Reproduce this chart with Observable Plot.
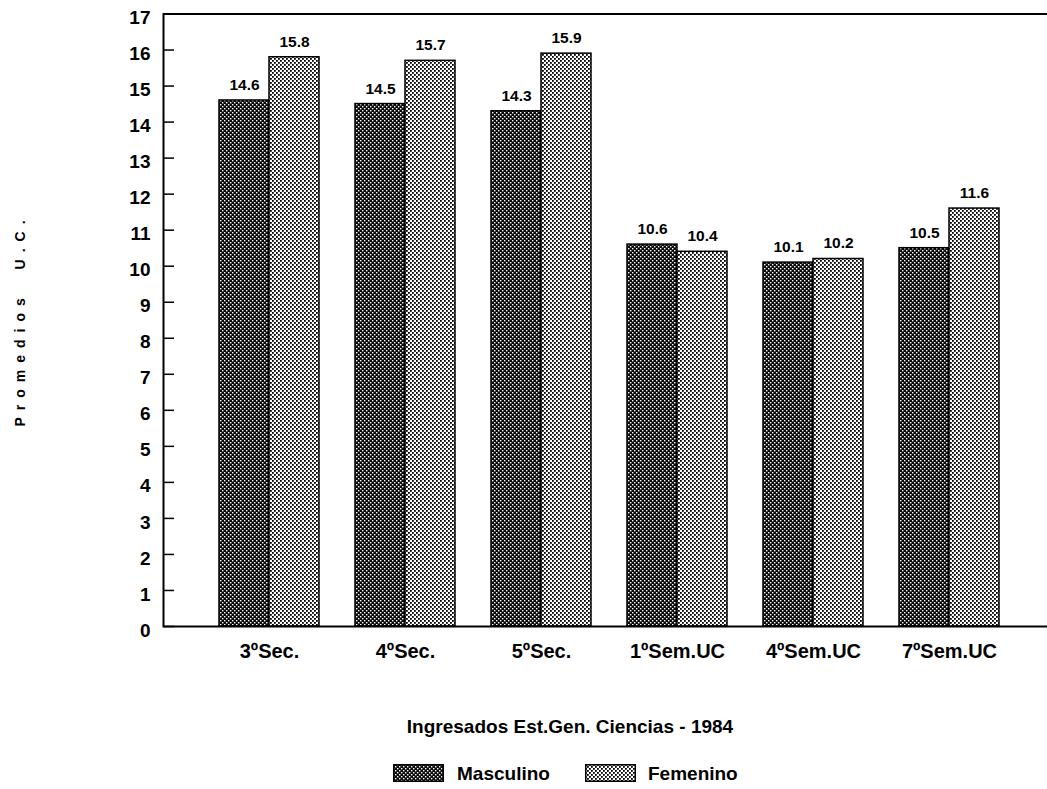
<!DOCTYPE html>
<html>
<head>
<meta charset="utf-8">
<script src="https://cdn.jsdelivr.net/npm/d3@7"></script>
<script src="https://cdn.jsdelivr.net/npm/@observablehq/plot@0.6"></script>
<style>
  html, body { margin: 0; padding: 0; background: #fff; }
  body { position: relative; width: 1047px; height: 789px; overflow: hidden; font-family: "Liberation Sans", Arial, sans-serif; color: #000; }
  #chart { position: absolute; left: 0; top: 0; }
  .ylabel { position: absolute; left: 20px; top: 320px; transform: translate(-50%, -50%) rotate(-90deg); white-space: pre; font-size: 14px; font-weight: bold; letter-spacing: 7px; line-height: 14px; }
  .xtitle { position: absolute; left: 570px; top: 717px; transform: translateX(-50%); font-size: 19px; font-weight: bold; line-height: 19px; white-space: nowrap; }
  .lg-text { position: absolute; top: 764px; font-size: 19px; font-weight: bold; line-height: 19px; white-space: nowrap; }
  .lg-sw { position: absolute; top: 764px; }
</style>
</head>
<body>
<div id="chart"></div>
<div class="ylabel">Promedios  U.C.</div>
<div class="xtitle">Ingresados Est.Gen. Ciencias - 1984</div>
<svg class="lg-sw" style="left:393px" width="51" height="18"><rect x="0.75" y="0.75" width="49.5" height="16.5" fill="url(#pm)" stroke="#000" stroke-width="1.5"/></svg>
<div class="lg-text" style="left:457px">Masculino</div>
<svg class="lg-sw" style="left:585px" width="51" height="18"><rect x="0.75" y="0.75" width="49.5" height="16.5" fill="url(#pf)" stroke="#000" stroke-width="1.5"/></svg>
<div class="lg-text" style="left:648px">Femenino</div>
<script>
const categories = ["3ºSec.", "4ºSec.", "5ºSec.", "1ºSem.UC", "4ºSem.UC", "7ºSem.UC"];
const masculino = [14.6, 14.5, 14.3, 10.6, 10.1, 10.5];
const femenino = [15.8, 15.7, 15.9, 10.4, 10.2, 11.6];
const yTicks = [0, 1, 2, 3, 4, 5, 6, 7, 8, 9, 10, 11, 12, 13, 14, 15, 16, 17];

const dataM = categories.map((c, i) => ({cat: c, value: masculino[i]}));
const dataF = categories.map((c, i) => ({cat: c, value: femenino[i]}));

const W = 1047, H = 680, mL = 163, mR = 0, mT = 13.5, mB = 54;
const frameW = W - mL - mR;
const fmt = d => d.value.toFixed(1);

const plot = Plot.plot({
  width: W,
  height: H,
  marginLeft: mL,
  marginRight: mR,
  marginTop: mT,
  marginBottom: mB,
  style: {fontFamily: "'Liberation Sans', Arial, sans-serif", background: "#fff", color: "#000"},
  x: {domain: categories, range: [200, 1018.4], paddingInner: 0.267, paddingOuter: 0.1335, align: 0.5, label: null, axis: null},
  y: {domain: [0, 17], label: null, axis: null},
  marks: [
    Plot.barY(dataM, {x: "cat", y: "value", fill: "url(#pm)", stroke: "#000", strokeWidth: 1.5, insetRight: 50}),
    Plot.barY(dataF, {x: "cat", y: "value", fill: "url(#pf)", stroke: "#000", strokeWidth: 1.5, insetLeft: 50}),
    Plot.text(dataM, {x: "cat", y: "value", text: fmt, dx: -25, dy: -15.5, lineAnchor: "middle", fontSize: 15.5, fontWeight: "bold"}),
    Plot.text(dataF, {x: "cat", y: "value", text: fmt, dx: 25, dy: -15.5, lineAnchor: "middle", fontSize: 15.5, fontWeight: "bold"}),
    Plot.tickY(yTicks, {y: d => d, insetRight: frameW - 11, stroke: "#000", strokeWidth: 1.5}),
    Plot.frame({stroke: "#000", strokeWidth: 2, insetRight: -6}),
    Plot.axisY(yTicks, {tickSize: 0, tickPadding: 13, fontSize: 19, fontWeight: "bold", dy: 4, label: null}),
    Plot.axisX({tickSize: 0, tickPadding: 17, fontSize: 20, fontWeight: "bold", label: null})
  ]
});

const defs = d3.select(plot).insert("defs", ":first-child");
defs.html(`
  <pattern id="pm" width="4" height="4" patternUnits="userSpaceOnUse">
    <rect width="4" height="4" fill="#0a0a0a"/>
    <rect x="0" y="0" width="1.4" height="1.4" fill="#fff"/>
    <rect x="2" y="2" width="1.4" height="1.4" fill="#fff"/>
  </pattern>
  <pattern id="pf" width="4" height="4" patternUnits="userSpaceOnUse">
    <rect width="4" height="4" fill="#fff"/>
    <rect x="0" y="0" width="1.8" height="1.8" fill="#000"/>
    <rect x="2" y="2" width="1.8" height="1.8" fill="#000"/>
  </pattern>
`);

document.getElementById("chart").appendChild(plot);
</script>
</body>
</html>
